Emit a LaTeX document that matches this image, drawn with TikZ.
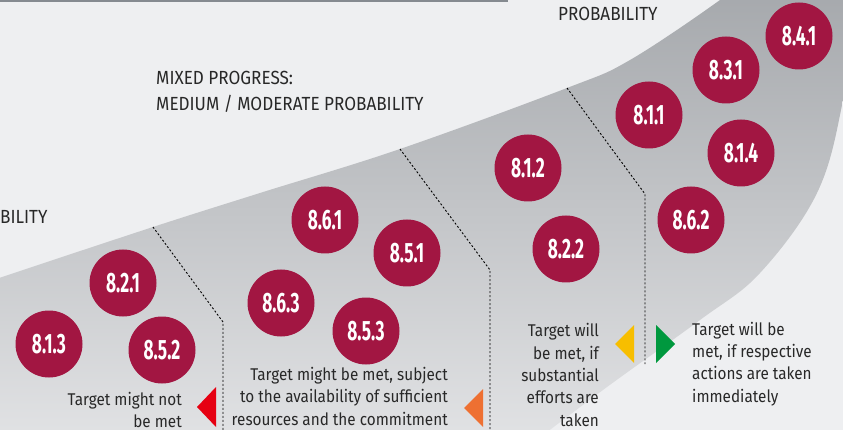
\documentclass[tikz,border=0pt]{standalone}
\usepackage{fontspec}
\setmainfont{Fira Sans}[FakeStretch=0.9]
\newfontfamily\numfont{Fira Sans}[FakeStretch=0.62]

\definecolor{bgpaper}{RGB}{238,239,241}
\definecolor{topbar}{RGB}{133,138,144}
\definecolor{banddark}{RGB}{163,166,170}
\definecolor{bandmid}{RGB}{199,201,204}
\definecolor{bandlight}{RGB}{226,227,229}
\definecolor{goalred}{RGB}{162,22,66}
\definecolor{inkgray}{RGB}{40,40,40}
\definecolor{offred}{RGB}{230,0,18}
\definecolor{offorange}{RGB}{238,112,50}
\definecolor{onyellow}{RGB}{247,190,0}
\definecolor{ongreen}{RGB}{0,152,62}

\begin{document}
\begin{tikzpicture}[x=1pt, y=-1pt,
    goal/.style={circle, fill=goalred, minimum size=67pt, inner sep=0pt, text=white,
      font=\numfont\bfseries\fontsize{28}{28}\selectfont},
    head/.style={inner sep=0pt, anchor=base west, text=inkgray, font=\fontsize{19}{26}\selectfont},
    note/.style={inner sep=0pt, text=inkgray, font=\fontsize{17}{22.3}\selectfont},
    divider/.style={dash pattern=on 2pt off 2pt, line width=0.9pt}]
    \useasboundingbox (0,0) rectangle (843,430);
    \fill[bgpaper] (0,0) rectangle (843,430);
    \clip (0,0) rectangle (843,430);
    \fill[topbar] (0,0) rectangle (508,2.5);
    % the band
    \shade[top color=banddark, middle color=bandmid, bottom color=bandlight]
      plot[smooth, tension=0.6] coordinates {(-10,281) (153,227) (260,193) (400,149) (567,88) (630,60) (720,0) (755,-30)}
      -- (870,-30)
      -- plot[smooth, tension=0.6] coordinates {(862,-30) (843,100) (817,193) (760,273) (700,320) (607,387) (530,445)}
      -- (-10,445) -- cycle;

    \node[head] (low) at (0,224) {BILITY};
    \node[head] (mixed) at (156,85) {MIXED PROGRESS:};
    \node[head] (medium) at (156,111) {MEDIUM / MODERATE PROBABILITY};
    \node[head] (high) at (558,21) {PROBABILITY};

    % dividers
    \coordinate (d1a) at (153,227); \coordinate (d1b) at (223,322); \coordinate (d1c) at (223,432);
    \coordinate (d2a) at (400,149); \coordinate (d2b) at (490,270); \coordinate (d2c) at (490,432);
    \coordinate (d3a) at (567,88);  \coordinate (d3b) at (645,194); \coordinate (d3c) at (645,364);
    \draw[divider] (d1a) -- (d1b) -- (d1c);
    \draw[divider] (d2a) -- (d2b) -- (d2c);
    \draw[divider] (d3a) -- (d3b) -- (d3c);

    \node[goal] (g841) at (799,36)  {8.4.1};
    \node[goal] (g831) at (726,70)  {8.3.1};
    \node[goal] (g811) at (649,115) {8.1.1};
    \node[goal] (g814) at (741,153) {8.1.4};
    \node[goal] (g862) at (691,220) {8.6.2};
    \node[goal] (g812) at (528,168) {8.1.2};
    \node[goal] (g822) at (566,249) {8.2.2};
    \node[goal] (g861) at (325,220) {8.6.1};
    \node[goal] (g851) at (407,253) {8.5.1};
    \node[goal] (g863) at (281,303) {8.6.3};
    \node[goal] (g853) at (366,331) {8.5.3};
    \node[goal] (g821) at (123,283) {8.2.1};
    \node[goal] (g813) at (49,344)  {8.1.3};
    \node[goal] (g852) at (162,350) {8.5.2};

    % base anchor sits on the last line
    \node[note, anchor=base east, align=right] (notmet) at (182,427.5)
      {Target might not\\be met};
    \node[note, anchor=base east, align=right] (mightmet) at (448,425)
      {Target might be met, subject\\to the availability of sufficient\\resources and the commitment};
    \node[note, anchor=base east, align=right] (effort) at (599,426)
      {Target will\\be met, if\\substantial\\efforts are\\taken};
    \node[note, anchor=base west, align=left] (willmet) at (692,402)
      {Target will be\\met, if respective\\actions are taken\\immediately};

    \fill[offred] (197,407) -- (216,387) -- (216,427) -- cycle;
    \fill[offorange] (464,408) -- (483,389) -- (483,427) -- cycle;
    \fill[onyellow] (615,344) -- (634,325) -- (634,363) -- cycle;
    \fill[ongreen] (675,344) -- (656,325) -- (656,363) -- cycle;
\end{tikzpicture}
\end{document}
